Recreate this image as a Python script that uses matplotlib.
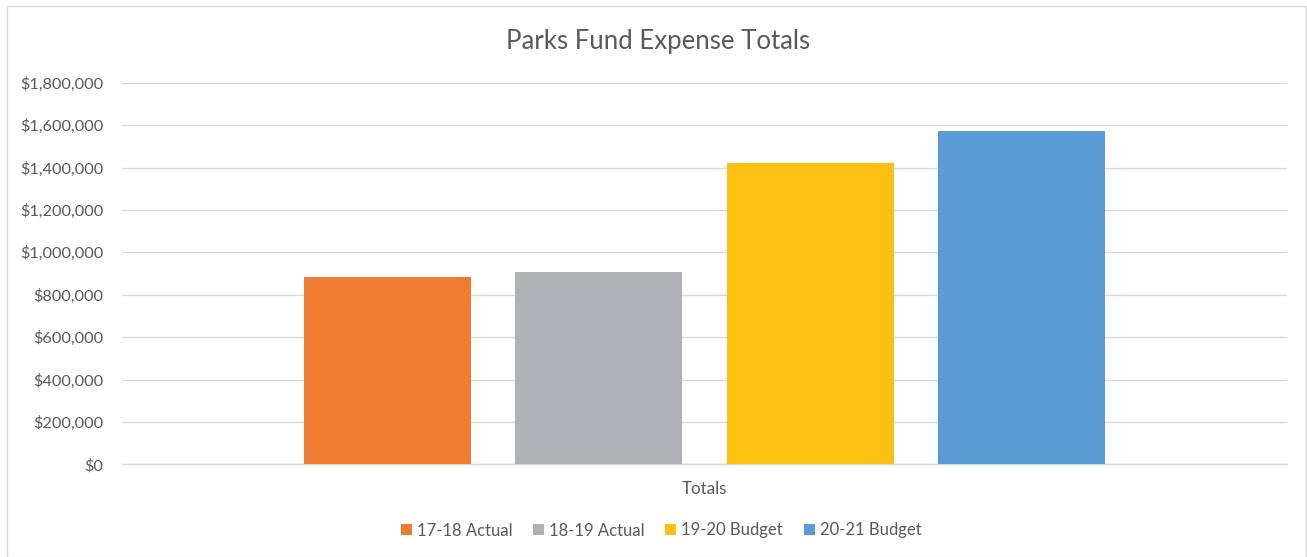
import matplotlib
matplotlib.use("Agg")
import matplotlib.pyplot as plt
from matplotlib.patches import Rectangle
from matplotlib.ticker import FuncFormatter, MultipleLocator

title = "Parks Fund Expense Totals"
category = "Totals"
series = ["17-18 Actual", "18-19 Actual", "19-20 Budget", "20-21 Budget"]
values = [885000, 909000, 1419000, 1570000]
colors = ["#ED7D31", "#B0B1B4", "#FBC011", "#5B9BD5"]

plt.rcParams['font.family'] = ['Lato', 'DejaVu Sans']

W, H = 1307, 557
fig = plt.figure(figsize=(W / 100, H / 100), dpi=100)
ax = fig.add_axes([122 / W, 1 - 464.3 / H, (1287 - 122) / W, (464.3 - 82.7) / H])

step = 0.1815
width = 0.1433
n = len(series)
for i, (s, v, c) in enumerate(zip(series, values, colors)):
    ax.bar((i - (n - 1) / 2) * step, v, width=width, color=c, label=s, zorder=3)

ax.set_xlim(-0.5, 0.5)
ax.set_ylim(0, 1800000)
ax.yaxis.set_major_locator(MultipleLocator(200000))
ax.yaxis.set_major_formatter(FuncFormatter(lambda v, p: f"${v:,.0f}"))
ax.grid(axis='y', color='#D9D9D9', linewidth=1.0, zorder=0)
ax.set_xticks([0])
ax.set_xticklabels([category])
for sp in ['top', 'right', 'left']:
    ax.spines[sp].set_visible(False)
ax.spines['bottom'].set_color('#D9D9D9')
ax.spines['bottom'].set_linewidth(1.0)
ax.tick_params(axis='both', length=0, colors='#595959', labelsize=11.8)
ax.tick_params(axis='y', pad=13.5)
ax.tick_params(axis='x', labelsize=12.2, pad=12)

fig.text(658 / W, 1 - 41 / H, title, ha='center', va='center', fontsize=18.5, color='#595959')

leg = fig.legend(loc='center', bbox_to_anchor=(661 / W, 1 - 530.5 / H), ncol=4, frameon=False,
                 fontsize=12, handlelength=0.65, handleheight=0.65, handletextpad=0.3,
                 columnspacing=1.25, labelcolor='#595959')

fig.patches.append(Rectangle((7 / W, 0.5 / H), (1306 - 7) / W, (556 - 5) / H,
                             transform=fig.transFigure, fill=False, edgecolor='#D9D9D9', linewidth=1.0))

fig.savefig("out.png", dpi=100, facecolor='white')
